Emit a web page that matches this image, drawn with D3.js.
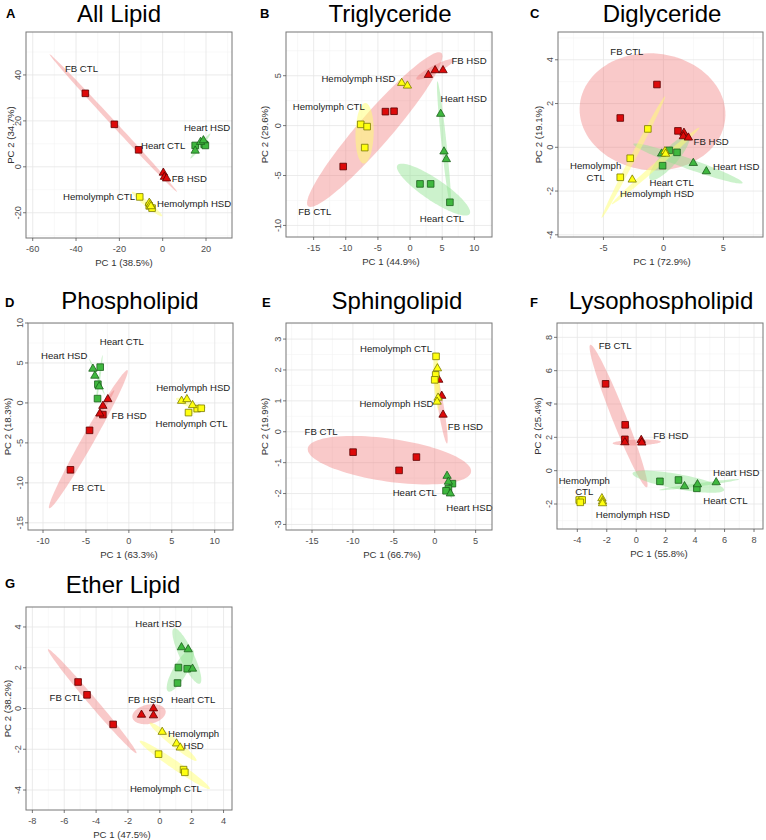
<!DOCTYPE html>
<html>
<head>
<meta charset="utf-8">
<script src="https://cdn.jsdelivr.net/npm/d3@7"></script>
<style>
  html, body { margin: 0; padding: 0; background: #fff; }
  svg { display: block; font-family: "Liberation Sans", Arial, Helvetica, sans-serif; }
</style>
</head>
<body>
<svg id="chart" width="766" height="840"></svg>
<script>
// ================= DATA =================
// points: [tissue, diet, PC1, PC2]
// ellipses: [tissue, diet, PC1 end1, PC2 end1, PC1 end2, PC2 end2, minor/major ratio]
// labels: [lines, PC1, PC2]

// ---- A: All Lipid ----
const titleA = "All Lipid", xLabA = "PC 1 (38.5%)", yLabA = "PC 2 (34.7%)";
const xDomA = [-63.1, 32], yDomA = [-31, 58.7];
const xTicksA = [-60, -40, -20, 0, 20], yTicksA = [-20, 0, 20, 40];
const pointsA = [
  ["FB","CTL",-35.7,32.0],["FB","CTL",-22.3,18.5],["FB","CTL",-11.1,7.4],
  ["FB","HSD",0.3,-2.6],["FB","HSD",0.8,-4.4],["FB","HSD",1.8,-5.1],
  ["Heart","CTL",15.0,9.3],["Heart","CTL",19.2,9.8],["Heart","CTL",19.7,9.3],
  ["Heart","HSD",15.0,7.0],["Heart","HSD",17.5,10.8],["Heart","HSD",18.8,11.5],
  ["Hemolymph","CTL",-10.6,-13.1],["Hemolymph","CTL",-6.2,-17.0],["Hemolymph","CTL",-4.9,-18.0],
  ["Hemolymph","HSD",-6.2,-15.7],["Hemolymph","HSD",-5.7,-16.4],["Hemolymph","HSD",-5.4,-17.2]
];
const ellipsesA = [
  ["FB","CTL",-52.2,49.0,6.6,-10.9,0.026],
  ["FB","HSD",-0.3,-1.8,2.6,-5.9,0.3],
  ["Heart","CTL",14.0,8.8,20.8,10.2,0.2],
  ["Heart","HSD",12.8,3.6,22.0,14.5,0.1],
  ["Hemolymph","CTL",-14.2,-10.9,-0.3,-21.5,0.14],
  ["Hemolymph","HSD",-7.2,-14.6,-4.4,-18.4,0.3]
];
const labelsA = [
  [["FB CTL"],-37.5,42.6],[["Heart HSD"],20.5,17.2],[["Heart CTL"],0.2,9.2],
  [["FB HSD"],12.3,-5.1],[["Hemolymph CTL"],-29.4,-13.1],[["Hemolymph HSD"],14.5,-16.0]
];

// ---- B: Triglyceride ----
const titleB = "Triglyceride", xLabB = "PC 1 (44.9%)", yLabB = "PC 2 (29.6%)";
const xDomB = [-19.3, 12.75], yDomB = [-11.16, 9.38];
const xTicksB = [-15, -10, -5, 0, 5, 10], yTicksB = [-10, -5, 0, 5];
const pointsB = [
  ["FB","CTL",-10.4,-4.1],["FB","CTL",-3.83,1.4],["FB","CTL",-2.49,1.44],
  ["FB","HSD",2.85,5.07],["FB","HSD",3.9,5.54],["FB","HSD",5.13,5.54],
  ["Heart","CTL",1.55,-5.84],["Heart","CTL",3.21,-5.84],["Heart","CTL",6.2,-7.68],
  ["Heart","HSD",4.77,1.17],["Heart","HSD",5.28,-2.6],["Heart","HSD",5.65,-3.37],
  ["Hemolymph","CTL",-7.67,0.13],["Hemolymph","CTL",-6.68,-0.1],["Hemolymph","CTL",-7.05,-2.2],
  ["Hemolymph","HSD",-1.3,4.27],["Hemolymph","HSD",-0.41,4.0]
];
const ellipsesB = [
  ["FB","CTL",-15.85,-8.08,4.87,7.28,0.16],
  ["FB","HSD",0.98,4.67,6.79,6.61,0.19],
  ["Heart","CTL",-1.97,-3.97,9.27,-8.85,0.25],
  ["Heart","HSD",4.25,4.44,6.32,-8.08,0.04],
  ["Hemolymph","CTL",-6.95,2.27,-7.2,-3.8,0.3],
  ["Hemolymph","HSD",-1.9,4.5,0.2,3.75,0.3]
];
const labelsB = [
  [["FB HSD"],9.17,6.51],[["Hemolymph HSD"],-8.03,4.71],[["Heart HSD"],8.34,2.67],
  [["Hemolymph CTL"],-12.64,1.87],[["FB CTL"],-14.82,-8.61],[["Heart CTL"],4.97,-9.28]
];

// ---- C: Diglyceride ----
const titleC = "Diglyceride", xLabC = "PC 1 (72.9%)", yLabC = "PC 2 (19.1%)";
const xDomC = [-8.79, 8.3], yDomC = [-4.1, 5.27];
const xTicksC = [-5, 0, 5], yTicksC = [-4, -2, 0, 2, 4];
const pointsC = [
  ["FB","CTL",-0.54,2.87],["FB","CTL",-3.6,1.34],["FB","CTL",1.21,0.75],
  ["FB","HSD",1.71,0.66],["FB","HSD",1.66,0.5],["FB","HSD",2.08,0.44],
  ["Heart","CTL",0.49,-0.14],["Heart","CTL",1.13,-0.23],["Heart","CTL",-0.07,-0.84],
  ["Heart","HSD",-0.15,-0.29],["Heart","HSD",2.49,-0.72],["Heart","HSD",3.58,-1.1],
  ["Hemolymph","CTL",-1.3,0.84],["Hemolymph","CTL",-2.77,-0.5],["Hemolymph","CTL",-3.6,-1.37],
  ["Hemolymph","HSD",-2.6,-1.48],["Hemolymph","HSD",0.13,-0.18],["Hemolymph","HSD",0.18,-0.3]
];
const ellipsesC = [
  ["FB","CTL",-6.97,1.95,5.15,1.29,0.8],
  ["FB","HSD",1.3,0.8,2.3,0.3,0.4],
  ["Heart","CTL",-1.11,-1.48,2.09,0.5,0.28],
  ["Heart","HSD",-2.5,0.15,6.6,-1.63,0.09],
  ["Hemolymph","CTL",-5.15,-3.23,0.13,2.33,0.04],
  ["Hemolymph","HSD",-4.3,-2.6,3.0,0.9,0.05]
];
const labelsC = [
  [["FB CTL"],-3.05,4.36],[["FB HSD"],3.98,0.27],[["Heart HSD"],6.07,-0.87],
  [["Hemolymph","CTL"],-5.65,-0.84],[["Heart CTL"],0.68,-1.63],[["Hemolymph HSD"],-0.54,-2.12]
];

// ---- D: Phospholipid ----
const titleD = "Phospholipid", xLabD = "PC 1 (63.3%)", yLabD = "PC 2 (18.3%)";
const xDomD = [-11.75, 12.13], yDomD = [-15.9, 10];
const xTicksD = [-10, -5, 0, 5, 10], yTicksD = [-15, -10, -5, 0, 5, 10];
const pointsD = [
  ["FB","CTL",-6.8,-8.37],["FB","CTL",-4.58,-3.43],["FB","CTL",-3.03,-1.46],
  ["FB","HSD",-2.45,0.46],["FB","HSD",-3.03,-0.38],["FB","HSD",-3.38,-1.34],
  ["Heart","CTL",-3.34,4.48],["Heart","CTL",-3.61,2.34],["Heart","CTL",-3.65,0.54],
  ["Heart","HSD",-4.19,4.27],["Heart","HSD",-3.96,3.39],["Heart","HSD",-3.46,2.05],
  ["Hemolymph","CTL",6.95,-1.21],["Hemolymph","CTL",7.96,-0.71],["Hemolymph","CTL",8.43,-0.67],
  ["Hemolymph","HSD",6.14,0.25],["Hemolymph","HSD",6.76,0.46],["Hemolymph","HSD",7.42,-0.29]
];
const ellipsesD = [
  ["FB","CTL",-9.28,-13.18,-0.16,4.1,0.075],
  ["FB","HSD",-3.85,-1.97,-1.71,1.59,0.1],
  ["Heart","CTL",-3.84,-0.08,-3.07,5.98,0.04],
  ["Heart","HSD",-4.6,5.5,-2.8,1.0,0.05],
  ["Hemolymph","CTL",6.5,-1.45,9.0,-0.5,0.2],
  ["Hemolymph","HSD",5.5,0.55,8.1,-0.6,0.25]
];
const labelsD = [
  [["Heart CTL"],-0.82,7.66],[["Heart HSD"],-7.53,5.98],[["Hemolymph HSD"],7.5,1.92],
  [["FB HSD"],0.04,-1.55],[["Hemolymph CTL"],7.3,-2.59],[["FB CTL"],-4.7,-10.54]
];

// ---- E: Sphingolipid ----
const titleE = "Sphingolipid", xLabE = "PC 1 (66.7%)", yLabE = "PC 2 (19.9%)";
const xDomE = [-18.18, 7.0], yDomE = [-3.18, 3.52];
const xTicksE = [-15, -10, -5, 0, 5], yTicksE = [-3, -2, -1, 0, 1, 2, 3];
const pointsE = [
  ["FB","CTL",-9.98,-0.66],["FB","CTL",-4.36,-1.25],["FB","CTL",-2.24,-0.82],
  ["FB","HSD",0.49,1.68],["FB","HSD",0.86,1.16],["FB","HSD",1.02,0.55],
  ["Heart","CTL",2.16,-1.68],["Heart","CTL",1.67,-1.84],["Heart","CTL",1.38,-1.91],
  ["Heart","HSD",1.51,-1.43],["Heart","HSD",1.67,-1.62],["Heart","HSD",1.91,-2.0],
  ["Hemolymph","CTL",0.16,2.44],["Hemolymph","CTL",0.12,1.84],["Hemolymph","CTL",0.0,1.68],
  ["Hemolymph","HSD",0.33,2.05],["Hemolymph","HSD",0.41,1.1],["Hemolymph","HSD",0.29,0.97]
];
const ellipsesE = [
  ["FB","CTL",-15.52,-0.54,4.44,-1.3,0.26],
  ["FB","HSD",0.0,2.0,1.5,-0.38,0.08],
  ["Heart","CTL",1.2,-1.98,2.4,-1.58,0.3],
  ["Heart","HSD",1.4,-1.25,2.05,-2.15,0.15],
  ["Hemolymph","CTL",0.08,2.6,0.3,1.0,0.12],
  ["Hemolymph","HSD",0.2,2.3,0.45,0.7,0.1]
];
const labelsE = [
  [["Hemolymph CTL"],-4.73,2.68],[["Hemolymph HSD"],-4.68,0.92],[["FB HSD"],3.75,0.16],
  [["FB CTL"],-13.89,0.02],[["Heart CTL"],-2.44,-1.97],[["Heart HSD"],4.24,-2.46]
];

// ---- F: Lysophospholipid ----
const titleF = "Lysophospholipid", xLabF = "PC 1 (55.8%)", yLabF = "PC 2 (25.4%)";
const xDomF = [-5.38, 8.61], yDomF = [-3.5, 8.86];
const xTicksF = [-4, -2, 0, 2, 4, 6, 8], yTicksF = [-2, 0, 2, 4, 6, 8];
const pointsF = [
  ["FB","CTL",-2.08,5.21],["FB","CTL",-0.75,2.75],["FB","CTL",-0.77,1.88],
  ["FB","HSD",-0.77,1.7],["FB","HSD",0.34,1.84],["FB","HSD",0.38,1.68],
  ["Heart","CTL",1.61,-0.64],["Heart","CTL",2.87,-0.56],["Heart","CTL",4.12,-1.06],
  ["Heart","HSD",3.28,-0.94],["Heart","HSD",4.16,-0.82],["Heart","HSD",5.43,-0.7],
  ["Hemolymph","CTL",-3.87,-1.76],["Hemolymph","CTL",-3.67,-1.76],["Hemolymph","CTL",-3.8,-1.9],
  ["Hemolymph","HSD",-2.33,-1.66],["Hemolymph","HSD",-2.29,-1.84],["Hemolymph","HSD",-2.29,-1.96]
];
const ellipsesF = [
  ["FB","CTL",-3.12,7.55,0.72,-1.0,0.09],
  ["FB","HSD",-1.6,1.64,1.67,1.74,0.12],
  ["Heart","CTL",-0.25,-0.16,5.97,-1.16,0.16],
  ["Heart","HSD",1.56,-1.16,6.99,-0.52,0.04],
  ["Hemolymph","CTL",-3.98,-1.68,-3.58,-1.95,0.5],
  ["Hemolymph","HSD",-2.35,-1.52,-2.25,-2.06,0.3]
];
const labelsF = [
  [["FB CTL"],-1.43,7.52],[["FB HSD"],2.35,2.1],[["Heart HSD"],6.79,-0.08],
  [["Hemolymph","CTL"],-3.53,-0.56],[["Heart CTL"],6.06,-1.78],[["Hemolymph HSD"],-0.23,-2.61]
];

// ---- G: Ether Lipid ----
const titleG = "Ether Lipid", xLabG = "PC 1 (47.5%)", yLabG = "PC 2 (38.2%)";
const xDomG = [-8.4, 4.53], yDomG = [-4.98, 4.98];
const xTicksG = [-8, -6, -4, -2, 0, 2, 4], yTicksG = [-4, -2, 0, 2, 4];
const pointsG = [
  ["FB","CTL",-5.13,1.3],["FB","CTL",-4.57,0.67],["FB","CTL",-2.93,-0.78],
  ["FB","HSD",-1.15,-0.31],["FB","HSD",-0.4,0.0],["FB","HSD",-0.4,-0.34],
  ["Heart","CTL",1.17,2.01],["Heart","CTL",1.72,1.95],["Heart","CTL",1.11,1.25],
  ["Heart","HSD",1.36,3.0],["Heart","HSD",1.78,2.9],["Heart","HSD",2.05,1.95],
  ["Hemolymph","CTL",-0.08,-2.24],["Hemolymph","CTL",1.49,-3.0],["Hemolymph","CTL",1.57,-3.13],
  ["Hemolymph","HSD",0.15,-1.15],["Hemolymph","HSD",1.05,-1.72],["Hemolymph","HSD",1.28,-1.92]
];
const ellipsesG = [
  ["FB","CTL",-7.02,2.91,-1.47,-2.19,0.06],
  ["FB","HSD",-1.72,-0.45,0.36,-0.11,0.57],
  ["Heart","CTL",0.52,0.84,2.05,2.9,0.29],
  ["Heart","HSD",0.88,3.93,2.51,1.22,0.23],
  ["Hemolymph","CTL",-1.26,-1.59,3.14,-3.94,0.1],
  ["Hemolymph","HSD",-0.63,-0.7,2.3,-2.56,0.13]
];
const labelsG = [
  [["Heart HSD"],-0.08,4.16],[["FB CTL"],-5.88,0.55],[["FB HSD"],-0.9,0.42],
  [["Heart CTL"],2.09,0.42],[["Hemolymph","HSD"],2.12,-1.25],[["Hemolymph CTL"],0.38,-3.94]
];

const panelLetters = ["A", "B", "C", "D", "E", "F", "G"];

// ================= STYLE / LAYOUT =================
const pointFill   = { FB: "#dd0a0a", Heart: "#3fb83f", Hemolymph: "#ffff10" };
const pointStroke = { FB: "#5c0000", Heart: "#1c5e1c", Hemolymph: "#7a7a00" };
const ellFill     = { FB: "#f07878", Heart: "#8fe28f", Hemolymph: "#ffff70" };
const ellOpacity  = { FB: 0.4, Heart: 0.45, Hemolymph: 0.5 };

// box: [x0, y0, x1, y1]; title: [cx, baseline]; letter: [x, baseline]
const layout = [
  { box: [26, 32, 232, 238],  title: [119, 22],  letter: [6, 18],   xlabX: 124, ylabX: 10 },
  { box: [286, 32, 492, 237], title: [390, 22],  letter: [260, 18], xlabX: 391, ylabX: 264 },
  { box: [558, 32, 763, 237], title: [662, 22],  letter: [530, 18], xlabX: 662, ylabX: 538 },
  { box: [28, 323, 233, 530], title: [130, 309], letter: [5, 307],  xlabX: 129, ylabX: 7 },
  { box: [286, 323, 492, 530],title: [397, 309], letter: [262, 307],xlabX: 392, ylabX: 264 },
  { box: [557, 323, 763, 529],title: [661, 309], letter: [530, 307],xlabX: 659, ylabX: 537 },
  { box: [26, 607, 232, 810], title: [123, 593], letter: [5, 588],  xlabX: 122, ylabX: 7 }
];

const panels = [
  { title: titleA, xl: xLabA, yl: yLabA, xd: xDomA, yd: yDomA, xt: xTicksA, yt: yTicksA, pts: pointsA, ell: ellipsesA, lab: labelsA },
  { title: titleB, xl: xLabB, yl: yLabB, xd: xDomB, yd: yDomB, xt: xTicksB, yt: yTicksB, pts: pointsB, ell: ellipsesB, lab: labelsB },
  { title: titleC, xl: xLabC, yl: yLabC, xd: xDomC, yd: yDomC, xt: xTicksC, yt: yTicksC, pts: pointsC, ell: ellipsesC, lab: labelsC },
  { title: titleD, xl: xLabD, yl: yLabD, xd: xDomD, yd: yDomD, xt: xTicksD, yt: yTicksD, pts: pointsD, ell: ellipsesD, lab: labelsD },
  { title: titleE, xl: xLabE, yl: yLabE, xd: xDomE, yd: yDomE, xt: xTicksE, yt: yTicksE, pts: pointsE, ell: ellipsesE, lab: labelsE },
  { title: titleF, xl: xLabF, yl: yLabF, xd: xDomF, yd: yDomF, xt: xTicksF, yt: yTicksF, pts: pointsF, ell: ellipsesF, lab: labelsF },
  { title: titleG, xl: xLabG, yl: yLabG, xd: xDomG, yd: yDomG, xt: xTicksG, yt: yTicksG, pts: pointsG, ell: ellipsesG, lab: labelsG }
];

// ================= DRAW =================
const svg = d3.select("#chart");
const defs = svg.append("defs");

panels.forEach((p, i) => {
  const L = layout[i];
  const [x0, y0, x1, y1] = L.box;
  const sx = d3.scaleLinear().domain(p.xd).range([x0, x1]);
  const sy = d3.scaleLinear().domain(p.yd).range([y1, y0]);
  const g = svg.append("g");
  const clipId = "clip" + i;
  defs.append("clipPath").attr("id", clipId)
    .append("rect").attr("x", x0).attr("y", y0).attr("width", x1 - x0).attr("height", y1 - y0);

  // panel letter + title
  g.append("text").attr("x", L.letter[0]).attr("y", L.letter[1])
    .attr("font-size", 13).attr("font-weight", "bold").attr("fill", "#000").text(panelLetters[i]);
  g.append("text").attr("x", L.title[0]).attr("y", L.title[1]).attr("text-anchor", "middle")
    .attr("font-size", 24).attr("fill", "#000").text(p.title);

  // background
  g.append("rect").attr("x", x0).attr("y", y0).attr("width", x1 - x0).attr("height", y1 - y0).attr("fill", "#fff");

  // minor grid (midpoints between major ticks)
  const minorX = [], minorY = [];
  const stepX = p.xt[1] - p.xt[0], stepY = p.yt[1] - p.yt[0];
  for (let v = p.xt[0] - stepX / 2; v <= p.xd[1]; v += stepX) if (v >= p.xd[0]) minorX.push(v);
  for (let v = p.yt[0] - stepY / 2; v <= p.yd[1]; v += stepY) if (v >= p.yd[0]) minorY.push(v);
  const grid = g.append("g").attr("clip-path", `url(#${clipId})`);
  grid.selectAll(".mx").data(minorX).join("line")
    .attr("x1", d => sx(d)).attr("x2", d => sx(d)).attr("y1", y0).attr("y2", y1)
    .attr("stroke", "#f4f4f4").attr("stroke-width", 0.6);
  grid.selectAll(".my").data(minorY).join("line")
    .attr("y1", d => sy(d)).attr("y2", d => sy(d)).attr("x1", x0).attr("x2", x1)
    .attr("stroke", "#f4f4f4").attr("stroke-width", 0.6);
  grid.selectAll(".gx").data(p.xt).join("line")
    .attr("x1", d => sx(d)).attr("x2", d => sx(d)).attr("y1", y0).attr("y2", y1)
    .attr("stroke", "#e6e6e6").attr("stroke-width", 0.8);
  grid.selectAll(".gy").data(p.yt).join("line")
    .attr("y1", d => sy(d)).attr("y2", d => sy(d)).attr("x1", x0).attr("x2", x1)
    .attr("stroke", "#e6e6e6").attr("stroke-width", 0.8);

  // ellipses
  const ellLine = d3.line().curve(d3.curveLinearClosed);
  const ellG = g.append("g").attr("clip-path", `url(#${clipId})`);
  p.ell.forEach(e => {
    const [tissue, diet, ax1, ay1, ax2, ay2, r] = e;
    const p1 = [sx(ax1), sy(ay1)], p2 = [sx(ax2), sy(ay2)];
    const c = [(p1[0] + p2[0]) / 2, (p1[1] + p2[1]) / 2];
    const a = [(p2[0] - p1[0]) / 2, (p2[1] - p1[1]) / 2];
    const b = [-a[1] * r, a[0] * r];
    const pts = d3.range(0, 96).map(k => {
      const t = k / 96 * 2 * Math.PI;
      return [c[0] + Math.cos(t) * a[0] + Math.sin(t) * b[0], c[1] + Math.cos(t) * a[1] + Math.sin(t) * b[1]];
    });
    ellG.append("path").attr("d", ellLine(pts))
      .attr("fill", ellFill[tissue]).attr("fill-opacity", ellOpacity[tissue]).attr("stroke", "none");
  });

  // points
  const sq = d3.symbol(d3.symbolSquare, 44);
  const tri = d3.symbol(d3.symbolTriangle, 30);
  g.append("g").attr("clip-path", `url(#${clipId})`)
    .selectAll("path").data(p.pts).join("path")
    .attr("d", d => d[1] === "CTL" ? sq() : tri())
    .attr("transform", d => `translate(${sx(d[2])},${sy(d[3])})`)
    .attr("fill", d => pointFill[d[0]]).attr("stroke", d => pointStroke[d[0]]).attr("stroke-width", 0.8);

  // labels
  p.lab.forEach(l => {
    const [lines, lx, ly] = l;
    const t = g.append("text").attr("text-anchor", "middle").attr("font-size", 9.6).attr("fill", "#222");
    lines.forEach((s, k) => {
      t.append("tspan").attr("x", sx(lx)).attr("y", sy(ly) + 3.5 + k * 11.5).text(s);
    });
  });

  // border
  g.append("rect").attr("x", x0).attr("y", y0).attr("width", x1 - x0).attr("height", y1 - y0)
    .attr("fill", "none").attr("stroke", "#777").attr("stroke-width", 1);

  // x axis ticks
  const xa = g.append("g");
  xa.selectAll("line").data(p.xt).join("line")
    .attr("x1", d => sx(d)).attr("x2", d => sx(d)).attr("y1", y1).attr("y2", y1 + 3)
    .attr("stroke", "#555").attr("stroke-width", 0.8);
  xa.selectAll("text").data(p.xt).join("text")
    .attr("x", d => sx(d)).attr("y", y1 + 14).attr("text-anchor", "middle")
    .attr("font-size", 9.2).attr("fill", "#4d4d4d").text(d => d);
  // y axis ticks (rotated labels)
  const ya = g.append("g");
  ya.selectAll("line").data(p.yt).join("line")
    .attr("y1", d => sy(d)).attr("y2", d => sy(d)).attr("x1", x0 - 3).attr("x2", x0)
    .attr("stroke", "#555").attr("stroke-width", 0.8);
  ya.selectAll("text").data(p.yt).join("text")
    .attr("transform", d => `translate(${x0 - 5.5},${sy(d)}) rotate(-90)`)
    .attr("text-anchor", "middle").attr("font-size", 9.2).attr("fill", "#4d4d4d").text(d => d);

  // axis titles
  g.append("text").attr("x", L.xlabX).attr("y", y1 + 28).attr("text-anchor", "middle")
    .attr("font-size", 9.6).attr("fill", "#333").text(p.xl);
  g.append("text").attr("transform", `translate(${L.ylabX + 3.5},${(y0 + y1) / 2}) rotate(-90)`)
    .attr("text-anchor", "middle").attr("font-size", 9.6).attr("fill", "#333").text(p.yl);
});
</script>
</body>
</html>
